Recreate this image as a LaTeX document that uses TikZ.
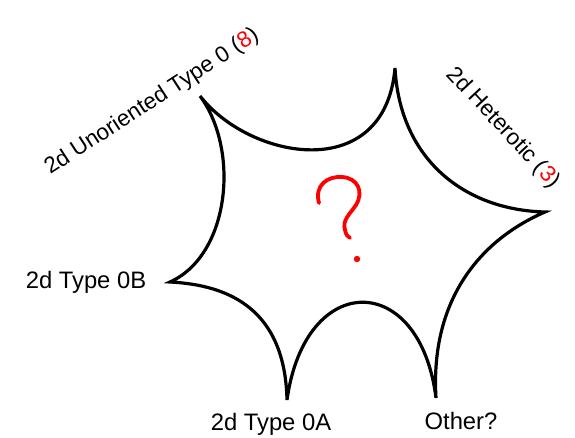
\documentclass[tikz,border=0pt]{standalone}
\usepackage{fontspec}
\setmainfont{Liberation Sans}
\begin{document}
\begin{tikzpicture}[x=0.5pt,y=-0.5pt,
  label text/.style={font=\fontsize{11.9}{14}\selectfont, inner sep=0pt},
  slant text/.style={font=\fontsize{11.3}{13.5}\selectfont, inner sep=0pt},
  star edge/.style={line width=1.6pt, line join=miter, black},
  scribble/.style={red, line width=1.9pt, line cap=round, line join=round}]
\useasboundingbox (0,0) rectangle (575,438);

% cusps of the star
\coordinate (ul) at (200,96);
\coordinate (top) at (395,68);
\coordinate (rt) at (545,212);
\coordinate (br) at (436,398);
\coordinate (bm) at (287,400);
\coordinate (lf) at (170,282);

% star-shaped region bounded by inward-curving arcs
\draw[star edge] (ul) .. controls (250,160) and (385,185) .. (top)
  .. controls (400,160) and (465,210) .. (rt)
  .. controls (480,240) and (430,300) .. (br)
  .. controls (420,270) and (305,270) .. (bm)
  .. controls (285,310) and (230,285) .. (lf)
  .. controls (230,255) and (240,150) .. cycle;

% hand-drawn question mark
\draw[scribble] (319,203) .. controls (314,185) and (328,176) .. (342,177)
  .. controls (358,178) and (364,192) .. (356,205)
  .. controls (350,214) and (342,220) .. (345,230)
  .. controls (346,235) and (348,237) .. (350,238);
\fill[red] (357,259) circle (3.2);

% labels
\node[slant text, rotate=33] (uno) at (152,102) {2d Unoriented Type 0 (\textcolor{red}{8})};
\node[slant text, rotate=-47] (het) at (503,128) {2d Heterotic (\textcolor{red}{3})};
\node[label text] (zb) at (86,282) {2d Type 0B};
\node[label text] (za) at (271,424) {2d Type 0A};
\node[label text] (oth) at (461,421) {Other?};
\end{tikzpicture}
\end{document}
